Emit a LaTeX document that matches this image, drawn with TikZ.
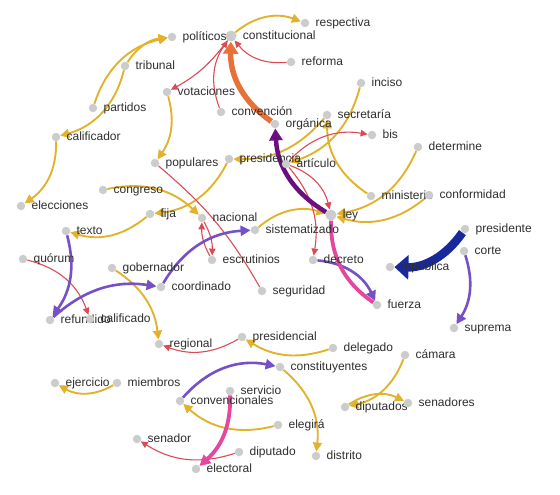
\documentclass[tikz,border=0pt]{standalone}
\usepackage{fontspec}
\setmainfont{Liberation Sans}
\usepackage{tikz}
\usetikzlibrary{
  arrows.meta,
  backgrounds,
  positioning
}
\definecolor{WnYellow}{HTML}{E2B22C}
\definecolor{WnRed}{HTML}{DC4A56}
\definecolor{WnViolet}{HTML}{7550C9}
\definecolor{WnPlum}{HTML}{6B0E80}
\definecolor{WnOrange}{HTML}{E8713A}
\definecolor{WnNavy}{HTML}{17299B}
\definecolor{WnPink}{HTML}{E4479E}
\definecolor{WnDot}{HTML}{CCCCCC}
\definecolor{WnText}{HTML}{2E2E2E}
\tikzset{
  every picture/.style = {line join=round},
  term dot/.style = {
    circle,
    fill=WnDot,
    draw=none,
    minimum size=8.5pt,
    inner sep=0pt
  },
  term dot big/.style = {term dot, minimum size=11pt},
  term label/.style = {
    font=\fontsize{12}{14}\selectfont,
    text=WnText,
    inner sep=1pt,
    text height=8.5pt,
    text depth=2.5pt,
    yshift=-0.5pt
  },
  link/.style = {line width=1.1pt},
  link red/.style = {link, draw=WnRed, -{Triangle[length=7pt,width=6.5pt]}},
  link red plain/.style = {link, draw=WnRed},
  link yellow/.style = {link, line width=1.9pt, draw=WnYellow, -{Triangle[length=9pt,width=9pt]}},
  link violet/.style = {link, line width=2.6pt, draw=WnViolet, -{Triangle[length=10pt,width=10pt]}},
  link plum/.style = {link, line width=4.5pt, draw=WnPlum, -{Triangle[length=12pt,width=13pt]}},
  link orange/.style = {link, line width=5.5pt, draw=WnOrange, -{Triangle[length=12pt,width=15pt]}},
  link navy/.style = {link, line width=8.5pt, draw=WnNavy, -{Triangle[length=14pt,width=24pt]}},
  link pink/.style = {link, line width=3.8pt, draw=WnPink, -{Triangle[length=11pt,width=11pt]}},
  link pink plain/.style = {link, line width=3.8pt, draw=WnPink},
}

\begin{document}
\begin{tikzpicture}[x=1pt,y=-1pt]
  \useasboundingbox (0,0) rectangle (560,495);

  % the two heavy terms
  \node[term dot big] (constitucional) at (231,36) {};
  \node[term label, right=5pt of constitucional] (constitucional-l) {constitucional};
  \node[term dot big] (ley) at (331,215) {};
  \node[term label, right=5pt of ley] (ley-l) {ley};

  % all other terms
  \foreach \n/\x/\y/\t in {
    respectiva/305/23/respectiva, politicos/172/37/políticos,
    reforma/291/62/reforma, tribunal/125/66/tribunal,
    inciso/361/83/inciso, votaciones/167/92/votaciones,
    partidos/93/108/partidos, convencion/221/112/convención,
    secretaria/327/115/secretaría, organica/275/124/orgánica,
    bis/372/135/bis, calificador/56/137/calificador,
    determine/418/147/determine, presidencia/229/159/presidencia,
    articulo/286/164/artículo, populares/155/163/populares,
    congreso/103/190/congreso, ministerio/371/196/ministerio,
    conformidad/429/195/conformidad, elecciones/21/206/elecciones,
    fija/150/214/fija, nacional/202/218/nacional,
    sistematizado/255/230/sistematizado, texto/66/231/texto,
    presidente/465/229/presidente, corte/464/251/corte,
    quorum/23/259/quórum, decreto/313/260/decreto,
    escrutinios/212/260/escrutinios, republica/390/267/república,
    gobernador/112/268/gobernador, coordinado/161/287/coordinado,
    seguridad/262/291/seguridad, fuerza/377/305/fuerza,
    refundido/50/320/refundido, calificado/90/319/calificado,
    suprema/454/328/suprema, regional/159/344/regional,
    presidencial/242/337/presidencial, delegado/333/348/delegado,
    camara/405/355/cámara, constituyentes/280/367/constituyentes,
    ejercicio/55/383/ejercicio, miembros/117/383/miembros,
    servicio/230/391/servicio, convencionales/180/401/convencionales,
    diputados/345/407/diputados, senadores/408/403/senadores,
    elegira/278/425/elegirá, senador/137/439/senador,
    diputado/239/452/diputado, distrito/316/456/distrito,
    electoral/196/469/electoral} {
    \node[term dot] (\n) at (\x,\y) {};
    \node[term label, right=5pt of \n] (\n-l) {\t};
  }

  \begin{scope}[on background layer]
    % yellow links
    \draw[link yellow] (constitucional) to[bend left=30] (respectiva);
    \draw[link yellow] (partidos) to[bend left=30] (politicos);
    \draw[link yellow] (tribunal) to[bend left=25] (politicos);
    \draw[link yellow] (tribunal) to[bend left=30] (calificador);
    \draw[link yellow] (calificador) to[bend left=28] (elecciones);
    \draw[link yellow] (votaciones) to[bend left=25] (populares);
    \draw[link yellow] (inciso) to[bend left=28] (articulo);
    \draw[link yellow] (secretaria) to[bend left=25] (presidencia);
    \draw[link yellow] (ministerio) to[bend left=28] (secretaria);
    \draw[link yellow] (determine) to[bend left=28] (ley);
    \draw[link yellow] (conformidad) to[bend left=28] (ley);
    \draw[link yellow] (sistematizado) to[bend left=28] (ley);
    \draw[link yellow] (congreso) to[bend left=28] (nacional);
    \draw[link yellow] (presidencia) to[bend left=28] (fija);
    \draw[link yellow] (fija) to[bend left=28] (texto);
    \draw[link yellow] (gobernador) to[bend left=25] (regional);
    \draw[link yellow] (delegado) to[bend left=25] (presidencial);
    \draw[link yellow] (constituyentes) to[bend left=28] (distrito);
    \draw[link yellow] (elegira) to[bend left=28] (convencionales);
    \draw[link yellow] (miembros) to[bend left=30] (ejercicio);
    \draw[link yellow] (camara) to[bend left=28] (diputados);
    \draw[link yellow] (diputados) to[bend left=30] (senadores);

    % red links
    \draw[link red] (constitucional) to[bend left=12] (votaciones);
    \draw[link red] (convencion) to[bend left=28] (constitucional);
    \draw[link red] (reforma) to[bend left=28] (constitucional);
    \draw[link red] (articulo) to[bend left=28] (bis);
    \draw[link red] (articulo) to[bend left=28] (ley);
    \draw[link red] (articulo) to[bend left=25] (decreto);
    \draw[link red] (nacional) to[bend left=15] (escrutinios);
    \draw[link red] (escrutinios) to[bend left=15] (nacional);
    \draw[link red plain] (populares) to[bend left=10] (seguridad);
    \draw[link red] (quorum) to[bend left=28] (calificado);
    \draw[link red] (presidencial) to[bend left=25] (regional);
    \draw[link red] (diputado) to[bend left=25] (senador);

    % violet links
    \draw[link violet] (texto) to[bend left=25] (refundido);
    \draw[link violet] (refundido) to[bend left=25] (coordinado);
    \draw[link violet] (coordinado) to[bend left=28] (sistematizado);
    \draw[link violet] (decreto) to[bend left=30] (fuerza);
    \draw[link violet] (corte) to[bend left=25] (suprema);
    \draw[link violet] (convencionales) to[bend left=30] (constituyentes);

    % heavy links
    \draw[link plum] (ley) to[bend left=28] (organica);
    \draw[link orange] (organica) to[bend left=28] (constitucional);
    \draw[link navy] (presidente) to[bend left=28] (republica);
    \draw[link pink plain] (fuerza) to[bend left=28] (ley);
    \draw[link pink] (servicio) to[bend left=25] (electoral);
  \end{scope}
\end{tikzpicture}
\end{document}
